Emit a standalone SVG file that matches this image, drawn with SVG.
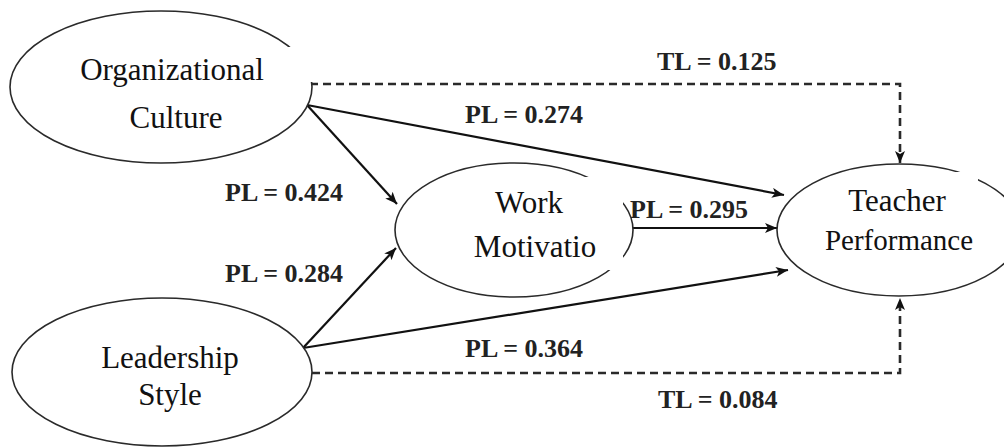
<svg xmlns="http://www.w3.org/2000/svg" width="1004" height="447" viewBox="0 0 1004 447">
<style>
.node{fill:#fff;stroke:#2a2a2a;stroke-width:1.6}
.mask{fill:#fff;stroke:none}
.nt{font-family:"Liberation Serif","Times New Roman",serif;font-size:31px;fill:#111;text-anchor:middle}
.lbl{font-family:"Liberation Serif","Times New Roman",serif;font-size:26px;font-weight:bold;fill:#222}
.solid{fill:none;stroke:#111;stroke-width:2.2;marker-end:url(#ah)}
.dash{fill:none;stroke:#2a2a2a;stroke-width:2.6;stroke-dasharray:8 5;marker-end:url(#ah)}
</style>
<defs>
<marker id="ah" viewBox="0 0 12 10" refX="12" refY="5" markerWidth="12" markerHeight="10" markerUnits="userSpaceOnUse" orient="auto">
<path d="M0,0 L12,5 L0,10 L3,5 z" fill="#111"/>
</marker>
</defs>
<rect width="1004" height="447" fill="#fff"/>
<g id="connectors">
<path class="dash" d="M310,84 H900 V163"/>
<path class="dash" d="M312,373 H900 V298"/>
<line class="solid" x1="307" y1="105" x2="784" y2="195"/>
<line class="solid" x1="307" y1="105" x2="397" y2="204"/>
<line class="solid" x1="303" y1="348" x2="396" y2="248"/>
<line class="solid" x1="303" y1="348" x2="788" y2="270"/>
<line class="solid" x1="633" y1="228" x2="777" y2="228"/>
<text class="lbl" x="657" y="70">TL = 0.125</text>
<text class="lbl" x="465" y="123">PL = 0.274</text>
<text class="lbl" x="225" y="201">PL = 0.424</text>
<text class="lbl" x="225" y="282">PL = 0.284</text>
<text class="lbl" x="630" y="218">PL = 0.295</text>
<text class="lbl" x="465" y="357">PL = 0.364</text>
<text class="lbl" x="658" y="408">TL = 0.084</text>
</g>
<g id="node-organizational-culture">
<ellipse class="node" cx="161" cy="87" rx="151" ry="76"/>
<rect class="mask" x="60" y="47" width="258" height="35"/>
<text class="nt" x="172" y="80">Organizational</text>
<text class="nt" x="176" y="128">Culture</text>
</g>
<g id="node-leadership-style">
<ellipse class="node" cx="162" cy="372" rx="150" ry="74"/>
<text class="nt" x="170" y="368">Leadership</text>
<text class="nt" x="170" y="405">Style</text>
</g>
<g id="node-work-motivation">
<ellipse class="node" cx="514" cy="230" rx="119" ry="67"/>
<rect class="mask" x="460" y="177" width="163" height="93"/>
<text class="nt" x="529" y="213">Work</text>
<text class="nt" x="535" y="257">Motivatio</text>
</g>
<g id="node-teacher-performance">
<ellipse class="node" cx="899" cy="230" rx="122" ry="66"/>
<rect class="mask" x="845" y="172" width="133" height="95"/>
<text class="nt" x="897" y="211">Teacher</text>
<text class="nt" x="899" y="250" style="font-size:29px">Performance</text>
</g>
</svg>
